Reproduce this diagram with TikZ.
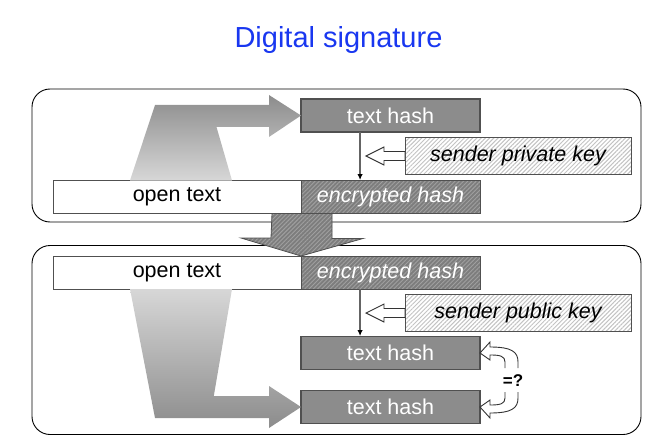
\documentclass[tikz,border=0pt]{standalone}
\usepackage{fontspec}
\setmainfont{Liberation Sans}
\usetikzlibrary{calc,patterns.meta,arrows.meta}
\definecolor{titleblue}{RGB}{25,55,240}
\definecolor{hashgray}{RGB}{140,140,140}
\definecolor{hashedge}{RGB}{80,80,80}
\definecolor{darkhatch}{RGB}{125,125,125}
\definecolor{darkhatchline}{RGB}{160,160,160}
\definecolor{lighthatchline}{RGB}{195,195,195}
\definecolor{gradtop}{RGB}{140,140,140}
\definecolor{gradbot}{RGB}{215,215,215}
\definecolor{vlinecol}{RGB}{100,100,100}
\tikzset{
  panel/.style={draw=black, line width=0.9pt, rounded corners=18pt, inner sep=0pt, outer sep=0pt},
  boxfont/.style={font=\fontsize{21.5}{24}\selectfont},
  hashbox/.style={boxfont, draw=hashedge, line width=1.4pt, fill=hashgray, text=white, inner sep=0pt, outer sep=0pt, minimum width=179pt, minimum height=33pt},
  openbox/.style={boxfont, draw=hashedge, line width=1pt, fill=white, text=black, inner sep=0pt, outer sep=0pt, minimum width=248pt, minimum height=33pt},
  darkhatched/.style={preaction={fill=darkhatch}, pattern={Lines[angle=45,distance=3pt,line width=0.9pt]}, pattern color=darkhatchline},
  lighthatched/.style={preaction={fill=white}, pattern={Lines[angle=45,distance=3pt,line width=1pt]}, pattern color=lighthatchline},
  encbox/.style={font=\fontsize{21.5}{24}\selectfont\itshape, draw=hashedge, line width=1pt, darkhatched, text=white, inner sep=0pt, outer sep=0pt, minimum width=179pt, minimum height=33pt},
  keybox/.style={font=\fontsize{21.5}{24}\selectfont\itshape, draw=hashedge, line width=1pt, lighthatched, text=black, inner sep=0pt, outer sep=0pt, minimum width=226pt, minimum height=37pt},
  vline/.style={draw=vlinecol, line width=2pt, -{Latex[black,length=6pt,width=5.5pt]}, shorten >=0.5pt},
  hollow/.style={draw=black!80, line width=0.9pt, fill=white, line join=miter},
  gradshape/.style={draw=none},
}
\begin{document}
\begin{tikzpicture}[x=1pt,y=-1pt]
\useasboundingbox (0,0) rectangle (653,441);

% title
\node[text=titleblue, font=\fontsize{29}{32}\selectfont] (title) at (338.5,40) {Digital signature};

% panels
\node[panel, minimum width=609pt, minimum height=133pt] (toppanel) at (336.5,155.5) {};
\node[panel, minimum width=609pt, minimum height=189pt] (botpanel) at (336.5,340) {};

% ---------- top panel ----------
\node[hashbox] (th1) at (390.5,115.5) {text hash};
\node[keybox] (pk) at (518,156) {sender private key};
\node[openbox] (ot1) at (177,197) {open text};
\node[encbox] (eh1) at (390.5,197) {encrypted hash};

% gradient hash arrow (top): dark at top, light at bottom
\path[gradshape, top color=gradtop, bottom color=gradbot] (130,180.5) -- (155,105) -- (269,105) -- (269,95) -- (th1.west) -- (269,137) -- (269,127) -- (216.5,127) -- (232,180.5) -- cycle;

% vertical arrow top
\draw[vline] ($(th1.south west)!0.33!(th1.south east)$) -- ($(eh1.north west)!0.33!(eh1.north east)$);

% hollow key arrow top
\draw[hollow] (pk.west) ++(0,-4.5) -- ++(-21,0) -- ++(0,-4.5) -- ++(-18,9) -- ++(18,9) -- ++(0,-4.5) -- ++(21,0) -- cycle;

% ---------- bottom panel ----------
\node[openbox] (ot2) at (177,272.5) {open text};
\node[encbox] (eh2) at (390.5,272.5) {encrypted hash};
\node[keybox] (pubk) at (518,313) {sender public key};
\node[hashbox] (th2) at (390.5,353) {text hash};
\node[hashbox] (th3) at (390.5,407) {text hash};

% gradient hash arrow (bottom): light at top, dark at bottom
\path[gradshape, top color=gradbot, bottom color=gradtop] (130,289) -- (232,289) -- (213.8,396) -- (269,396) -- (269,386) -- (th3.west) -- (269,428) -- (269,418) -- (155,418) -- cycle;

% vertical arrow bottom
\draw[vline] ($(eh2.south west)!0.33!(eh2.south east)$) -- ($(th2.north west)!0.33!(th2.north east)$);

% hollow key arrow bottom
\draw[hollow] (pubk.west) ++(0,-4.5) -- ++(-21,0) -- ++(0,-4.5) -- ++(-18,9) -- ++(18,9) -- ++(0,-4.5) -- ++(21,0) -- cycle;

% ---------- big down arrow ----------
\draw[draw=hashedge, line width=0.8pt, darkhatched]
  ($(ot1.south east)+(-29,0)$) -- ($(ot1.south east)+(31,0)$) -- ++(0,25) -- ++(31,0)
  -- (ot2.north east) -- ++(-60,-18) -- ++(30,0) -- cycle;

% ---------- comparison arrows ----------
\coordinate (cmpA) at (th2.east);
\coordinate (cmpB) at (th3.east);
\fill[white] (505,368) -- (505,362) .. controls (505,356) and (500,355) .. (490,355) -- (490,360) -- (cmpA) -- (490,342) -- (490,347) .. controls (512,347) and (518,352) .. (518,362) -- (518,368) -- cycle;
\draw[hollow, fill=none] (505,368) -- (505,362) .. controls (505,356) and (500,355) .. (490,355) -- (490,360) -- (cmpA) -- (490,342) -- (490,347) .. controls (512,347) and (518,352) .. (518,362) -- (518,368);
\fill[white] (505,392) -- (505,398) .. controls (505,404) and (500,405) .. (490,405) -- (490,400) -- (cmpB) -- (490,418) -- (490,413) .. controls (512,413) and (518,408) .. (518,398) -- (518,392) -- cycle;
\draw[hollow, fill=none] (505,392) -- (505,398) .. controls (505,404) and (500,405) .. (490,405) -- (490,400) -- (cmpB) -- (490,418) -- (490,413) .. controls (512,413) and (518,408) .. (518,398) -- (518,392);
\node[font=\fontsize{17}{19}\selectfont\bfseries] (eq) at (513,381) {=?};
\end{tikzpicture}
\end{document}
